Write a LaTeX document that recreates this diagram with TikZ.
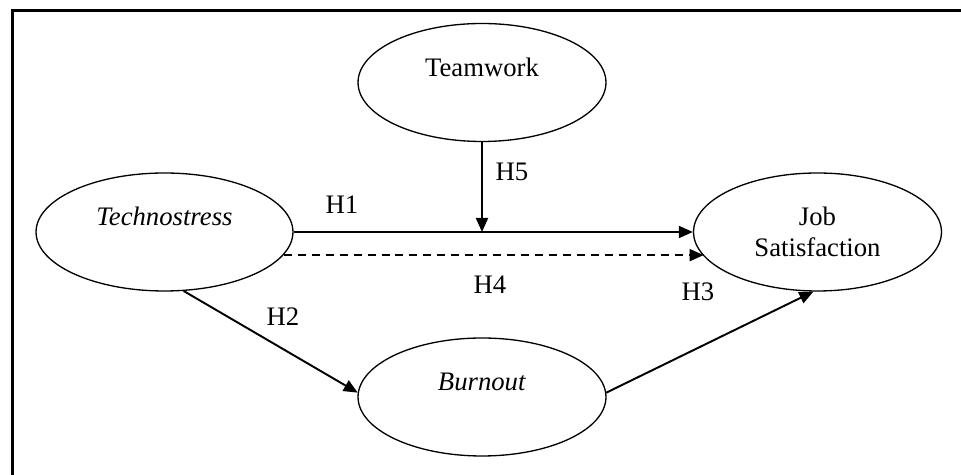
\documentclass[tikz,border=0pt]{standalone}
\usepackage{fontspec}
\setmainfont{Liberation Serif}
\usetikzlibrary{shapes.geometric,arrows.meta,calc}

\begin{document}
\begin{tikzpicture}[x=0.02cm,y=-0.02cm,font=\fontsize{15.2}{17.6}\selectfont]
    \tikzstyle{construct}=[ellipse,draw,line width=0.75pt,inner sep=0pt,
        minimum width=4.96cm,minimum height=2.36cm,align=center]
    \tikzstyle{path}=[line width=1.1pt,-{Triangle[length=0.28cm,width=0.24cm]}]
    \useasboundingbox (0,0) rectangle (961,475);
    % Frame
    \draw[line width=1.2pt] (12.5,475) -- (12.5,10.5) -- (961,10.5);
    % Constructs
    \node[construct] (team) at (482,82.5) {Teamwork\\\mbox{}};
    \node[construct,minimum width=5.14cm] (tech) at (164.5,232) {\textit{Technostress}\\\mbox{}};
    \node[construct] (job) at (817.5,232) {Job\\Satisfaction};
    \node[construct] (burn) at (482,397) {\textit{Burnout}\\\mbox{}};
    \coordinate (mod) at (team.south |- tech.east);
    % Paths
    \draw[path] (tech.east) -- (job.west);
    \draw[path] (team.south) -- (mod);
    \draw[path,dash pattern=on 0.16cm off 0.12cm] (tech.-11.6) -- (job.-168.1 |- tech.-11.6);
    \draw[path] (tech.-72.6) -- (burn.178);
    \draw[path] (burn.2) -- (job.-94.4);
    % Labels
    \node (h1) at (342,205) {H1};
    \node (h5) at (512,172) {H5};
    \node (h4) at (490,285) {H4};
    \node (h3) at (698,292) {H3};
    \node (h2) at (283,317) {H2};
\end{tikzpicture}
\end{document}
